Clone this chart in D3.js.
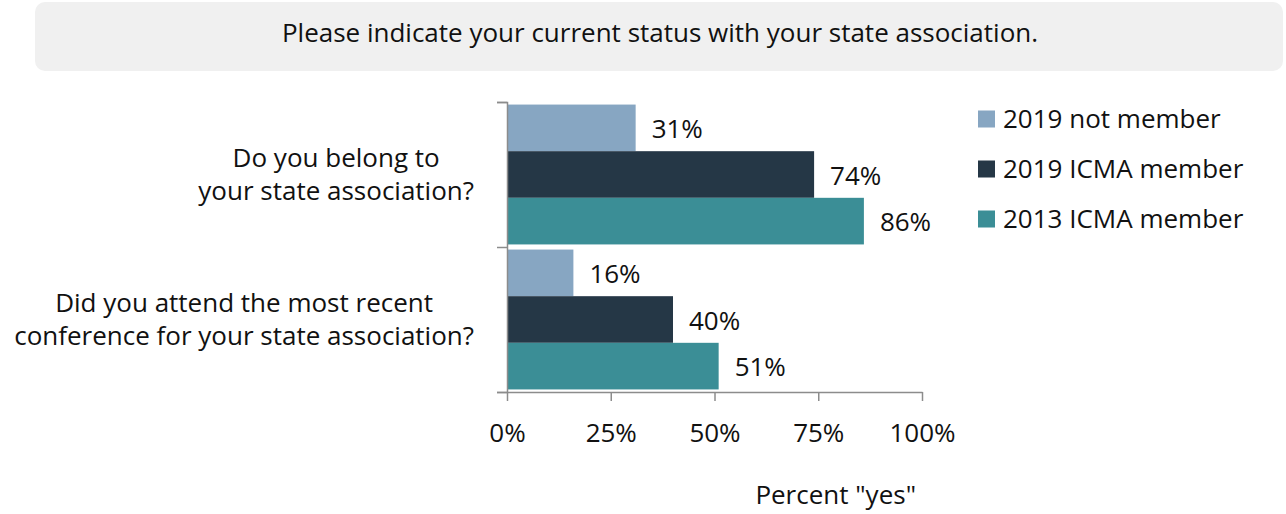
<!DOCTYPE html>
<html><head><meta charset="utf-8">
<script src="https://cdn.jsdelivr.net/npm/d3@7"></script>
<style>body{margin:0;background:#fff;} text{font-family:"Open Sans", Lato, sans-serif;fill:#111;}</style>
</head><body>
<svg id="c" width="1286" height="514"></svg>
<script>
const title = "Please indicate your current status with your state association.";
const categories = [["Do you belong to","your state association?"],["Did you attend the most recent","conference for your state association?"]];
const seriesNames = ["2019 not member","2019 ICMA member","2013 ICMA member"];
const notMember2019 = [31,16];
const member2019 = [74,40];
const member2013 = [86,51];
const tickValues = [0,25,50,75,100];
const xAxisTitle = 'Percent "yes"';
const colors = ["#87a6c2","#253746","#3b8e96"];
const series = [notMember2019, member2019, member2013];
const FS = "26px";

const svg = d3.select("#c");
// title box
svg.append("rect").attr("x",35).attr("y",2).attr("width",1248).attr("height",69).attr("rx",10).attr("fill","#f0f0f0");
svg.append("text").attr("x",660).attr("y",33).attr("dy","0.35em").attr("text-anchor","middle").style("font-size","26px").text(title);

const x = d3.scaleLinear().domain([0,100]).range([507,922]);
const y0 = d3.scaleBand().domain(d3.range(categories.length)).range([102,392]).paddingInner(0).paddingOuter(0);
const y1 = d3.scaleBand().domain(d3.range(series.length)).range([0,y0.bandwidth()]).paddingOuter(0.055).paddingInner(0);

const g = svg.append("g");
series.forEach((vals,si)=>{
  g.selectAll(null).data(vals).enter().append("rect")
    .attr("x",x(0)).attr("y",(d,i)=>y0(i)+y1(si)).attr("width",d=>x(d)-x(0)).attr("height",y1.bandwidth())
    .attr("fill",colors[si]);
  g.selectAll(null).data(vals).enter().append("text")
    .attr("x",d=>x(d)+16).attr("y",(d,i)=>y0(i)+y1(si)+y1.bandwidth()/2+1).attr("dy","0.35em")
    .style("font-size",FS).text(d=>d+"%");
});

// x axis
const xa = svg.append("g").attr("transform","translate(0,392)")
  .call(d3.axisBottom(x).tickValues(tickValues).tickSize(9).tickSizeOuter(0).tickFormat(d=>d+"%"));
xa.select(".domain").attr("stroke","#8c8c8c").attr("stroke-width",1.5);
xa.selectAll(".tick line").attr("stroke","#8c8c8c").attr("stroke-width",1.5);
xa.selectAll(".tick text").attr("y",41).attr("dy","0.35em").style("font-size",FS).style("font-family","'Open Sans'").attr("fill","#111");

// y axis
const ya = svg.append("g").attr("transform","translate(507,0)")
  .call(d3.axisLeft(d3.scaleLinear().domain([0,categories.length]).range([392,102])).tickValues(d3.range(categories.length+1)).tickSize(10).tickFormat(""));
ya.select(".domain").attr("stroke","#8c8c8c").attr("stroke-width",1.5);
ya.selectAll(".tick line").attr("stroke","#8c8c8c").attr("stroke-width",1.5);

// category labels
categories.forEach((lines,i)=>{
  const t = svg.append("text").style("font-size",FS).attr("text-anchor","middle");
  const c = y0(i)+y0.bandwidth()/2;
  lines.forEach((ln,j)=>{
    t.append("tspan").attr("x",0).attr("y",c+(j-(lines.length-1)/2)*33).attr("dy","0.35em").text(ln);
  });
  const w = t.node().getBBox().width;
  t.selectAll("tspan").attr("x",474-w/2);
});

svg.append("text").attr("x",916).attr("y",504).attr("text-anchor","end").style("font-size",FS).text(xAxisTitle);

// legend
seriesNames.forEach((n,i)=>{
  const cy = 119+i*50;
  svg.append("rect").attr("x",978).attr("y",cy-8.5).attr("width",17).attr("height",17).attr("fill",colors[i]);
  svg.append("text").attr("x",1003).attr("y",cy).attr("dy","0.35em").style("font-size",FS).text(n);
});
</script>
</body></html>
